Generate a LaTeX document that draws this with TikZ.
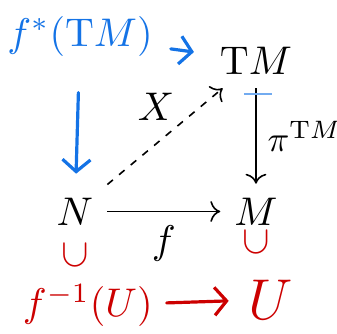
\documentclass[tikz,border=0pt]{standalone}
\usepackage{amsmath, amssymb}
\usepackage{tikz}
\usetikzlibrary{positioning, arrows.meta}
\definecolor{penblue}{RGB}{20,115,230}
\definecolor{penred}{RGB}{204,0,0}
\tikzset{hand/.style={line width=0.8pt, line cap=round, line join=round, -{Straight Barb[length=3pt, width=7pt]}}}

\begin{document}
\begin{tikzpicture}[x=0.25pt, y=0.25pt, node distance=37.75pt and 45.25pt, on grid, auto]
          \useasboundingbox (0,0) rectangle (337,334);
          \node (N) at (75,122.5) {$N$};
          \node (M) [right=of N] {$M$};
          \node (TM) [above=of M] {$\mathrm{T}M$};
          \draw[->, dash pattern=on 1.8pt off 2pt] (N) -- node[pos=0.62, inner sep=1pt] {$X$} (TM);
          \draw[->] (TM) -- node[inner sep=3pt, scale=0.9] {$\pi^{\mathrm{T}M}$} (M);
          \draw[->] (N) -- node[swap] {$f$} (M);
          % notes in blue
          \node[penblue] (pullback) [above left=6pt and 44pt of TM] {$f^{*}(\mathrm{T}M)$};
          \draw[penblue, hand, shorten <=1pt, shorten >=3pt] (pullback) -- (TM);
          \draw[penblue, hand, shorten <=5.5pt, shorten >=2.5pt] (pullback) -- (N);
          \draw[penblue!60, line width=0.4pt] ([shift={(-3pt,-1.5pt)}]TM.south) -- ++(7pt,0);
          % notes in red
          \node[penred, rotate=90] (subN) [below=9.6pt of N, xshift=-1.2pt] {$\subset$};
          \node[penred, rotate=90] (subM) [below=9pt of M, xshift=1.5pt] {$\subset$};
          \node[penred] (preimage) [below=23.5pt of N, xshift=3.2pt] {$f^{-1}(U)$};
          \node[penred, font=\Large] (openU) [below=22pt of M, xshift=3.75pt] {$U$};
          \draw[penred, hand, shorten >=1.5pt] (preimage) -- (openU);
      \end{tikzpicture}
\end{document}
